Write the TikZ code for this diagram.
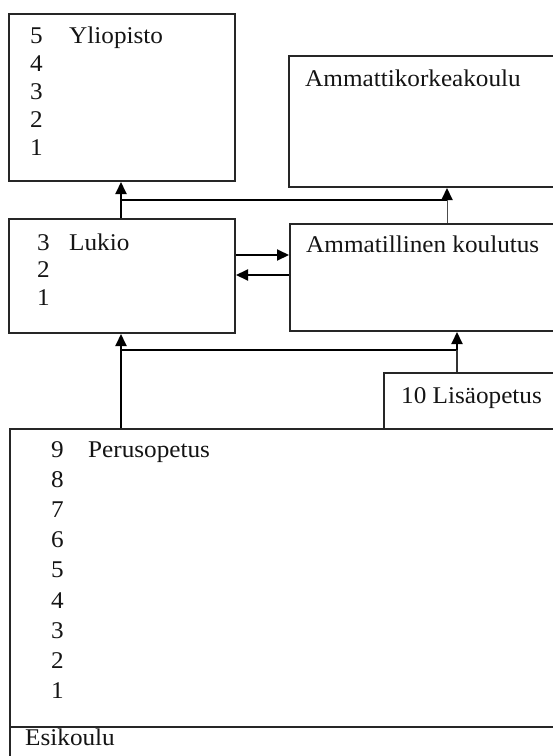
\documentclass[tikz,border=0pt]{standalone}
\usepackage{fontspec}
\setmainfont{Liberation Serif}[FakeStretch=1.05]
\usetikzlibrary{arrows.meta}
\begin{document}
\begin{tikzpicture}[x=1pt,y=-1pt,
  box/.style={draw=black!85,line width=2pt,rectangle,inner sep=0pt,anchor=north west},
  lbl/.style={inner sep=0pt,anchor=base west,text=black!92,font=\fontsize{24}{24}\selectfont},
  arr/.style={draw=black,line width=2pt,-{Triangle[length=12pt,width=11pt]}},
  conn/.style={draw=black!80,line width=2pt},
  thinconn/.style={draw=black!70,line width=1pt}]
\useasboundingbox (0,0) rectangle (553,756);
\clip (0,0) rectangle (553,756);
\fill[white] (0,0) rectangle (553,756);
% boxes
\node[box,minimum width=226pt,minimum height=167pt] (yo) at (8,13) {};
\node[box,minimum width=280pt,minimum height=131pt] (amk) at (288,55) {};
\node[box,minimum width=226pt,minimum height=114pt] (lukio) at (8,218) {};
\node[box,minimum width=280pt,minimum height=107pt] (amm) at (289,223) {};
\node[box,minimum width=200pt,minimum height=56pt] (lisa) at (383,372) {};
\node[box,minimum width=560pt,minimum height=298pt] (peru) at (9,428) {};
\node[box,minimum width=560pt,minimum height=60pt] (esi) at (9,726) {};
% texts
\node[lbl] (yo5) at (30,43) {5};
\node[lbl] (yot) at (69,43) {Yliopisto};
\node[lbl] (yo4) at (30,71) {4};
\node[lbl] (yo3) at (30,99) {3};
\node[lbl] (yo2) at (30,127) {2};
\node[lbl] (yo1) at (30,155) {1};
\node[lbl] (amkt) at (305,86) {Ammattikorkeakoulu};
\node[lbl] (lu3) at (37,250) {3};
\node[lbl] (lut) at (69,250) {Lukio};
\node[lbl] (lu2) at (37,277.5) {2};
\node[lbl] (lu1) at (37,305) {1};
\node[lbl] (ammt) at (306,252) {Ammatillinen koulutus};
\node[lbl] (lisat) at (401,403) {10 Lisäopetus};
\node[lbl] (pe9) at (51,457) {9};
\node[lbl] (pet) at (88,457) {Perusopetus};
\node[lbl] (pe8) at (51,487.2) {8};
\node[lbl] (pe7) at (51,517.4) {7};
\node[lbl] (pe6) at (51,547.6) {6};
\node[lbl] (pe5) at (51,577.8) {5};
\node[lbl] (pe4) at (51,608) {4};
\node[lbl] (pe3) at (51,638.2) {3};
\node[lbl] (pe2) at (51,668.4) {2};
\node[lbl] (pe1) at (51,698.6) {1};
\node[lbl] (esit) at (25,745) {Esikoulu};
% junction coordinates
\coordinate (j1) at (121,200);
\coordinate (j2) at (447,200);
\coordinate (j3) at (121,350);
\coordinate (j4) at (457,350);
\coordinate (ya) at (0,255);
\coordinate (yb) at (0,275);
% connectors
\draw[arr] (j1 |- lukio.north) -- (j1 |- yo.south);
\draw[arr] (j1) -- (j2) -- (j2 |- amk.south);
\draw[thinconn] (j2 |- amm.north) -- (j2);
\draw[arr] (lukio.east |- ya) -- (amm.west |- ya);
\draw[arr] (amm.west |- yb) -- (lukio.east |- yb);
\draw[arr] (j3 |- peru.north) -- (j3 |- lukio.south);
\draw[arr] (j3) -- (j4) -- (j4 |- amm.south);
\draw[conn] (j4 |- lisa.north) -- (j4);
\end{tikzpicture}
\end{document}
